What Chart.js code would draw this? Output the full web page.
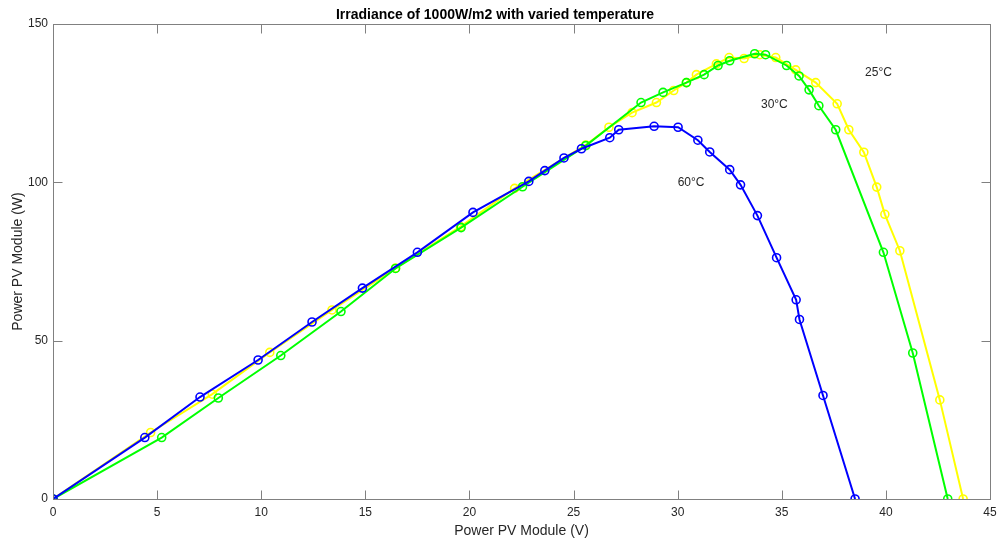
<!DOCTYPE html>
<html>
<head>
<meta charset="utf-8">
<script src="https://cdn.jsdelivr.net/npm/chart.js@4/dist/chart.umd.min.js"></script>
<style>
  html, body { margin: 0; padding: 0; background: #fff; }
  #wrap { width: 998px; height: 542px; }
</style>
</head>
<body>
<div id="wrap"><canvas id="pvChart" width="998" height="542"></canvas></div>
<script>
// Values
// 60°C (blue)
const v60 = [0, 4.41, 7.06, 9.85, 12.44, 14.86, 17.5, 20.17, 22.85, 23.62, 24.54, 25.38, 26.74, 27.17, 28.87, 30.02, 30.97, 31.54, 32.5, 33.02, 33.83, 34.75, 35.69, 35.85, 36.98, 38.52];
const p60 = [0, 19.4, 32.2, 43.9, 55.9, 66.6, 77.9, 90.5, 100.3, 103.7, 107.7, 110.6, 114.1, 116.6, 117.7, 117.4, 113.3, 109.6, 104.0, 99.2, 89.5, 76.2, 62.9, 56.7, 32.7, 0];

// 30°C (green)
const v30 = [0, 5.22, 7.94, 10.94, 13.83, 16.45, 19.6, 22.55, 25.59, 28.24, 29.3, 30.42, 31.27, 31.94, 32.5, 33.7, 34.22, 35.23, 35.83, 36.31, 36.78, 37.59, 39.88, 41.29, 42.97];
const p30 = [0, 19.4, 31.9, 45.3, 59.2, 72.8, 85.7, 98.6, 111.6, 125.2, 128.4, 131.5, 134.0, 136.9, 138.4, 140.6, 140.3, 136.9, 133.6, 129.2, 124.2, 116.6, 77.9, 46.1, 0];

// 25°C (yellow)
const v25 = [0, 4.69, 7.65, 10.41, 13.4, 16.45, 19.57, 22.17, 25.59, 26.7, 27.81, 28.98, 29.81, 30.42, 30.9, 31.86, 32.47, 33.19, 33.94, 34.71, 35.67, 36.63, 37.66, 38.22, 38.94, 39.56, 39.95, 40.67, 42.59, 43.71];
const p25 = [0, 21.0, 33.1, 46.3, 59.7, 72.9, 86.0, 98.1, 111.8, 117.4, 122.0, 125.2, 129.0, 131.5, 134.0, 137.4, 139.4, 139.1, 140.3, 139.4, 135.5, 131.5, 124.8, 116.6, 109.5, 98.5, 89.9, 78.4, 31.3, 0];

// text labels placed in data coordinates
const labelText = ['25°C', '30°C', '60°C'];
const labelV = [39.0, 34.0, 30.0];
const labelP = [134.7, 124.6, 99.9];

const FONT = "'Liberation Sans', Arial, sans-serif";
const AXIS = '#808080';
const TEXT = '#262626';

function pts(xs, ys) {
  return xs.map((x, i) => ({ x: x, y: ys[i] }));
}

function series(label, xs, ys, color) {
  return {
    label: label,
    data: pts(xs, ys),
    borderColor: color,
    borderWidth: 2,
    pointStyle: 'circle',
    pointRadius: 4,
    pointBorderWidth: 1.6,
    pointBorderColor: color,
    pointBackgroundColor: 'rgba(0,0,0,0)',
    tension: 0,
    fill: false
  };
}

// box around the plot + inward ticks on all four sides
const boxTicks = {
  id: 'boxTicks',
  afterDraw(chart) {
    const { ctx, chartArea: a, scales: { x, y } } = chart;
    const len = 9;
    ctx.save();
    ctx.strokeStyle = AXIS;
    ctx.lineWidth = 1;
    const L = Math.round(a.left) + 0.5, R = Math.round(a.right) + 0.5;
    const T = Math.round(a.top) + 0.5, B = Math.round(a.bottom) + 0.5;
    ctx.strokeRect(L, T, R - L, B - T);
    ctx.beginPath();
    x.ticks.forEach(t => {
      const px = Math.round(x.getPixelForValue(t.value)) + 0.5;
      ctx.moveTo(px, B); ctx.lineTo(px, B - len);
      ctx.moveTo(px, T); ctx.lineTo(px, T + len);
    });
    y.ticks.forEach(t => {
      const py = Math.round(y.getPixelForValue(t.value)) + 0.5;
      ctx.moveTo(L, py); ctx.lineTo(L + len, py);
      ctx.moveTo(R, py); ctx.lineTo(R - len, py);
    });
    ctx.stroke();
    ctx.restore();
  },
  afterDatasetsDraw(chart) {
    const { ctx, scales: { x, y } } = chart;
    ctx.save();
    ctx.font = '12px ' + FONT;
    ctx.fillStyle = TEXT;
    ctx.textAlign = 'left';
    ctx.textBaseline = 'middle';
    labelText.forEach((s, i) => {
      ctx.fillText(s, x.getPixelForValue(labelV[i]), y.getPixelForValue(labelP[i]));
    });
    ctx.restore();
  }
};

new Chart(document.getElementById('pvChart'), {
  type: 'line',
  data: {
    datasets: [
      series('60°C', v60, p60, '#0000ff'),
      series('30°C', v30, p30, '#00ff00'),
      series('25°C', v25, p25, '#ffff00')
    ]
  },
  options: {
    responsive: false,
    animation: false,
    layout: { padding: { left: 0, top: 0, right: 8, bottom: 0 } },
    plugins: {
      legend: { display: false },
      tooltip: { enabled: false },
      title: {
        display: true,
        text: 'Irradiance of 1000W/m2 with varied temperature',
        color: '#000',
        font: { family: FONT, size: 14, weight: 'bold' },
        padding: { top: 6.6, bottom: 0.6 }
      }
    },
    scales: {
      x: {
        type: 'linear',
        min: 0,
        max: 45,
        ticks: { stepSize: 5, color: TEXT, padding: 6, font: { family: FONT, size: 12 }, maxRotation: 0 },
        grid: { drawOnChartArea: false, drawTicks: false },
        border: { display: false },
        title: {
          display: true,
          text: 'Power PV Module (V)',
          color: TEXT,
          font: { family: FONT, size: 14 },
          padding: { top: 0, bottom: 2 }
        },
        afterFit(scale) {
          scale.height = 43;
          scale.paddingLeft = 0;
          scale.paddingRight = 0;
        }
      },
      y: {
        type: 'linear',
        min: 0,
        max: 150,
        ticks: { stepSize: 50, color: TEXT, padding: 5, font: { family: FONT, size: 12 } },
        grid: { drawOnChartArea: false, drawTicks: false },
        border: { display: false },
        title: {
          display: true,
          text: 'Power PV Module (W)',
          color: TEXT,
          font: { family: FONT, size: 14 },
          padding: { top: 10, bottom: 0 }
        },
        afterFit(scale) { scale.width = 53; }
      }
    }
  },
  plugins: [boxTicks]
});
</script>
</body>
</html>
